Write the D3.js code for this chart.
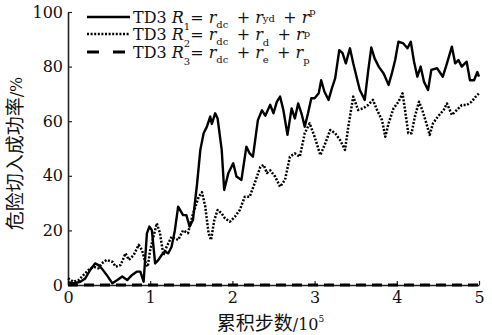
<!DOCTYPE html>
<html>
<head>
<meta charset="utf-8">
<script src="https://cdn.jsdelivr.net/npm/d3@7/dist/d3.min.js"></script>
<style>
  body { margin: 0; background: #fff; }
  svg { display: block; }
  .tick text, .lg text, .serif { font-family: "DejaVu Serif", serif; }
</style>
</head>
<body>
<div id="chartContainer"></div>
<script>
// steps in units of 10^5, rates in %
const r1Steps = [0, 0.07, 0.15, 0.21, 0.27, 0.33, 0.37, 0.41, 0.47, 0.54, 0.6, 0.66, 0.72, 0.78, 0.84, 0.88, 0.92, 0.96, 0.99, 1.02, 1.06, 1.1, 1.14, 1.18, 1.22, 1.26, 1.3, 1.34, 1.4, 1.44, 1.48, 1.52, 1.57, 1.61, 1.65, 1.69, 1.73, 1.75, 1.79, 1.82, 1.87, 1.9, 1.95, 2.01, 2.05, 2.11, 2.17, 2.21, 2.25, 2.31, 2.36, 2.4, 2.46, 2.5, 2.54, 2.58, 2.62, 2.67, 2.72, 2.76, 2.8, 2.84, 2.88, 2.92, 2.96, 3, 3.05, 3.08, 3.12, 3.17, 3.21, 3.25, 3.3, 3.34, 3.38, 3.43, 3.47, 3.51, 3.55, 3.61, 3.65, 3.69, 3.73, 3.78, 3.84, 3.9, 3.94, 3.98, 4.02, 4.08, 4.13, 4.17, 4.21, 4.25, 4.29, 4.33, 4.38, 4.42, 4.49, 4.56, 4.61, 4.67, 4.71, 4.75, 4.79, 4.85, 4.89, 4.94, 4.98, 5];
const r1Rate = [1, 0.6, 1.2, 2.4, 5.5, 7.9, 7.3, 6.1, 3.7, 0.6, 1.8, 3.1, 1.8, 3.7, 4.9, 4.9, 1.2, 18.9, 21.4, 20.1, 7.9, 9.2, 11, 12.2, 11.6, 14, 20, 28.7, 25.6, 25.6, 21.4, 23.8, 37, 49.5, 55.6, 58, 61.7, 59, 62.9, 61, 49.5, 34.8, 40.9, 44.6, 39.7, 38.5, 50.7, 48.2, 47, 60.4, 64, 62, 66, 62.9, 67.1, 69, 64.1, 55, 64.7, 61, 66.5, 62.9, 58, 62.9, 68.4, 68.4, 70.2, 75, 70.8, 67.8, 72, 75.7, 86, 84.9, 81.2, 86.7, 81.2, 76.3, 71.4, 67.8, 78, 87, 83, 80, 77.5, 73.3, 77.5, 82.4, 89.1, 88.5, 86.7, 89.1, 81.8, 76.3, 80, 74.5, 71.4, 78.8, 79.4, 76.3, 81.2, 87.3, 81.2, 82.4, 80, 81.8, 75, 75, 78, 76.3];

const r2Steps = [0, 0.07, 0.13, 0.19, 0.25, 0.31, 0.37, 0.41, 0.47, 0.54, 0.58, 0.64, 0.7, 0.74, 0.8, 0.86, 0.9, 0.94, 0.97, 1, 1.04, 1.08, 1.12, 1.16, 1.2, 1.26, 1.34, 1.4, 1.46, 1.52, 1.59, 1.63, 1.67, 1.71, 1.74, 1.78, 1.82, 1.87, 1.91, 1.97, 2.03, 2.09, 2.15, 2.21, 2.27, 2.34, 2.38, 2.42, 2.46, 2.52, 2.58, 2.64, 2.7, 2.76, 2.82, 2.88, 2.94, 3, 3.07, 3.13, 3.19, 3.25, 3.31, 3.37, 3.41, 3.47, 3.53, 3.59, 3.65, 3.71, 3.76, 3.82, 3.86, 3.9, 3.96, 4.02, 4.07, 4.1, 4.14, 4.18, 4.22, 4.27, 4.31, 4.36, 4.4, 4.44, 4.5, 4.57, 4.61, 4.67, 4.73, 4.79, 4.85, 4.91, 4.96, 5];
const r2Rate = [2.4, 1.2, 1.8, 3.7, 5.5, 6.7, 6.1, 7.9, 9.2, 8.5, 6.7, 7.3, 11.6, 9.2, 11, 14.7, 12.8, 8.5, 6.7, 12.8, 17.7, 22.6, 18.9, 11, 14, 17.7, 16.5, 20, 19, 26, 32.3, 34, 28.7, 19, 16.5, 23.8, 27.5, 26.2, 24.4, 23.2, 25, 27.5, 32.3, 32.3, 37.2, 43.3, 44, 41, 42, 39.7, 36, 38.5, 47, 48.2, 47, 55.6, 59.2, 54.3, 47.6, 51.9, 56.8, 55.6, 53.1, 49.5, 58, 69, 64.1, 64.7, 65.9, 67.8, 64.1, 60.4, 54.3, 59.2, 64.7, 67.1, 70.2, 64.1, 55.6, 55.6, 61.7, 67.1, 64.1, 59.2, 55, 59.2, 61.7, 64.1, 66.5, 62.3, 64.1, 65.9, 65.9, 67.1, 69, 70.2];

const r3Steps = [0, 5];
const r3Rate = [0, 0];

const xTicks = [0, 1, 2, 3, 4, 5];
const yTicks = [0, 20, 40, 60, 80, 100];

const margin = { top: 12, right: 13, bottom: 50, left: 68 };
const width = 492 - margin.left - margin.right;
const height = 335 - margin.top - margin.bottom;

const svg = d3.select("#chartContainer")
  .append("svg")
  .attr("width", 492)
  .attr("height", 335)
  .append("g")
  .attr("transform", `translate(${margin.left}, ${margin.top})`);

const xScale = d3.scaleLinear().domain([0, 5]).range([0, width]);
const yScale = d3.scaleLinear().domain([0, 100]).range([height, 0]);

const line = d3.line()
  .x(d => xScale(d[0]))
  .y(d => yScale(d[1]));

// x axis, ticks pointing inward
const xAxis = svg.append("g")
  .attr("transform", `translate(0, ${height})`)
  .call(d3.axisBottom(xScale).tickValues(xTicks).tickFormat(d3.format("d"))
    .tickSizeInner(-4).tickSizeOuter(0).tickPadding(6));

// y axis
const yAxis = svg.append("g")
  .call(d3.axisLeft(yScale).tickValues(yTicks).tickFormat(d3.format("d"))
    .tickSizeInner(-4).tickSizeOuter(0).tickPadding(5));

[xAxis, yAxis].forEach(ax => {
  ax.attr("font-size", 16).attr("font-family", null);
  ax.select(".domain").attr("stroke", "#222").attr("stroke-width", 1.6);
  ax.selectAll(".tick line").attr("stroke", "#222").attr("stroke-width", 1.2);
  ax.selectAll(".tick text").attr("fill", "#111");
});
xAxis.selectAll(".tick text").attr("dy", "0.72em");

// series
const series = [
  { steps: r1Steps, rate: r1Rate, dash: null, w: 2.4 },
  { steps: r2Steps, rate: r2Rate, dash: "2,1.6", w: 2.5 },
  { steps: r3Steps, rate: r3Rate, dash: "10,6", w: 3.2 }
];

series.forEach(s => {
  svg.append("path")
    .datum(s.steps.map((x, i) => [x, s.rate[i]]))
    .attr("fill", "none")
    .attr("stroke", "#000")
    .attr("stroke-width", s.w)
    .attr("stroke-linejoin", "round")
    .attr("stroke-dasharray", s.dash)
    .attr("d", line);
});

// legend
const legend = svg.append("g")
  .attr("class", "lg")
  .attr("transform", "translate(19, 0)");

const legendRows = [
  { y: 5, dash: null, w: 2.4, sub1: "1", terms: [["dc", 5], ["yd", -1], ["p", -8]] },
  { y: 22, dash: "2,1.6", w: 2.5, sub1: "2", terms: [["dc", 5], ["d", 6], ["p", -3]] },
  { y: 40, dash: "12,14", w: 3.2, sub1: "3", terms: [["dc", 5], ["e", 5], ["p", 6]] }
];

legendRows.forEach(r => {
  legend.append("line")
    .attr("x1", 0).attr("x2", 43)
    .attr("y1", r.y).attr("y2", r.y)
    .attr("stroke", "#000")
    .attr("stroke-width", r.w)
    .attr("stroke-dasharray", r.dash);

  const t = legend.append("text")
    .attr("x", 46)
    .attr("y", r.y + 6)
    .attr("font-size", 16)
    .attr("fill", "#111");
  t.append("tspan").text("TD3 ");
  t.append("tspan").attr("font-style", "italic").text("R");
  t.append("tspan").attr("font-size", 10).attr("dy", 7).text(r.sub1);
  t.append("tspan").attr("dy", -7).text("= ");
  r.terms.forEach((term, i) => {
    if (i > 0) t.append("tspan").text(" + ");
    t.append("tspan").attr("font-style", "italic").text("r");
    t.append("tspan").attr("font-size", 10).attr("dy", term[1]).text(term[0]);
    t.append("tspan").attr("dy", -term[1]).text("\u2009");
  });
});

// axis titles
const xTitle = svg.append("text")
  .attr("x", width / 2 - 3)
  .attr("y", height + 45)
  .attr("text-anchor", "middle")
  .attr("font-size", 19)
  .attr("fill", "#111");
xTitle.append("tspan").attr("font-family", "Noto Sans CJK SC").text("累积步数");
xTitle.append("tspan").attr("class", "serif").attr("font-size", 16).text("/10");
xTitle.append("tspan").attr("class", "serif").attr("font-size", 9).attr("dy", -8).text("5");

const yTitle = svg.append("text")
  .attr("transform", `translate(${-46}, ${height / 2 + 5}) rotate(-90)`)
  .attr("text-anchor", "middle")
  .attr("font-size", 19)
  .attr("fill", "#111");
yTitle.append("tspan").attr("font-family", "Noto Sans CJK SC").text("危险切入成功率");
yTitle.append("tspan").attr("class", "serif").attr("font-size", 16).text("/%");
</script>
</body>
</html>
